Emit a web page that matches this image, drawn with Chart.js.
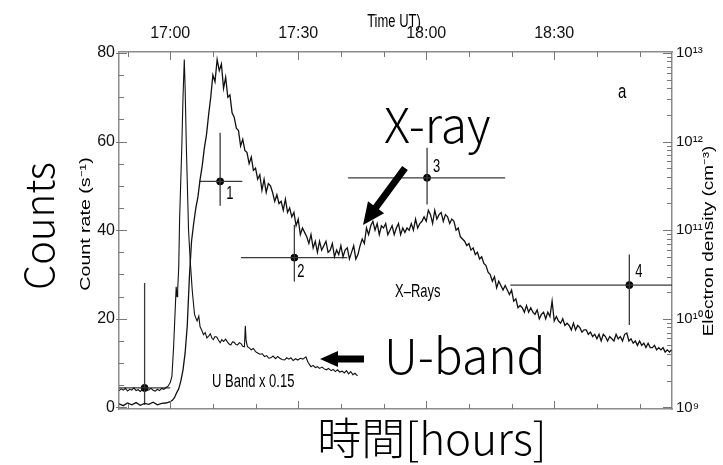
<!DOCTYPE html>
<html>
<head>
<meta charset="utf-8">
<script src="https://cdn.jsdelivr.net/npm/chart.js@4.4.1/dist/chart.umd.min.js"></script>
<style>
  html, body { margin: 0; padding: 0; background: #fff; }
</style>
</head>
<body>
<canvas id="flareChart" width="723" height="465"></canvas>
<script>
// time is minutes after 16:00 UT
var xrayTime = [48, 49, 50, 51, 52, 53, 54, 55, 56, 57, 58, 59,
  60, 60.5, 61, 61.5, 62, 62.5, 63, 63.5, 64, 64.5,
  65, 65.5, 66, 66.5, 67, 67.5, 68, 68.5, 69, 69.5,
  70, 70.5, 71, 71.5, 72, 72.5, 73, 73.5, 74, 74.5,
  75, 75.5, 76, 76.5, 77, 77.5, 78, 78.5, 79, 79.5,
  80, 80.5, 81, 81.5, 82, 82.5, 83, 83.5, 84, 84.5,
  85, 85.5, 86, 86.5, 87, 87.5, 88, 88.5, 89, 89.5,
  90, 90.5, 91, 91.5, 92, 92.5, 93, 93.5, 94, 94.5,
  95, 95.5, 96, 96.5, 97, 97.5, 98, 98.5, 99, 99.5,
  100, 100.5, 101, 101.5, 102, 102.5, 103, 103.5, 104, 104.5,
  105, 105.5, 106, 106.5, 107, 107.5, 108, 108.5, 109, 109.5,
  110, 110.5, 111, 111.5, 112, 112.5, 113, 113.5, 114, 114.5,
  115, 115.5, 116, 116.5, 117, 117.5, 118, 118.5, 119, 119.5,
  120, 120.5, 121, 121.5, 122, 122.5, 123, 123.5, 124, 124.5,
  125, 125.5, 126, 126.5, 127, 127.5, 128, 128.5, 129, 129.5,
  130, 130.5, 131, 131.5, 132, 132.5, 133, 133.5, 134, 134.5,
  135, 135.5, 136, 136.5, 137, 137.5, 138, 138.5, 139, 139.5,
  140, 140.5, 141, 141.5, 142, 142.5, 143, 143.5, 144, 144.5,
  145, 145.5, 146, 146.5, 147, 147.5, 148, 148.5, 149, 149.5,
  150, 150.5, 151, 151.5, 152, 152.5, 153, 153.5, 154, 154.5,
  155, 155.5, 156, 156.5, 157, 157.5, 158, 158.5, 159, 159.5,
  160, 160.5, 161, 161.5, 162, 162.5, 163, 163.5, 164, 164.5,
  165, 165.5, 166, 166.5, 167, 167.5, 168, 168.5, 169, 169.5,
  170, 170.5, 171, 171.5, 172, 172.5, 173, 173.5, 174, 174.5,
  175, 175.5, 176, 176.5, 177, 177.5];
var xrayCounts = [0.8, 0.4, 1.0, 0.6, 1.1, 0.5, 0.9, 0.7, 1.2, 0.6, 0.9, 1.0,
  1.3, 1.6, 2.2, 3.3, 4.2, 6.0, 8.5, 12.3, 18.5, 29.5,
  37.5, 41.5, 45, 47.5, 51.4, 54.5, 58.5, 61.5, 66, 70,
  75, 73.5, 78.5, 76, 77.5, 72, 74.5, 70, 70.5, 66.5,
  65.5, 63, 62.5, 59, 60.5, 58, 57.5, 55, 56.5, 53.5,
  54, 51.5, 52.5, 49, 51.5, 48.5, 50.5, 50, 48.5, 46.5,
  48, 46, 46.5, 44.5, 47, 44, 45, 43, 44, 41,
  42.5, 39, 40.5, 39.5, 38.5, 37, 39, 36, 37.5, 35,
  37.5, 35.5, 36.5, 37.5, 35, 35.5, 37, 34, 35.5, 34.5,
  36.5, 34, 35.5, 36, 33.5, 35, 36.5, 33.5, 34.5, 36.5,
  38, 37, 40.5, 39, 41, 42, 40, 41.5, 39, 41,
  40.5, 41.5, 39, 40, 41, 39, 40.5, 41.5, 39, 40.5,
  39.5, 40.5, 40, 41.5, 40, 42.5, 40.5, 41.5, 42, 43,
  42, 44.5, 43.5, 41.5, 44.5, 42.5, 43.5, 44, 42, 43.5,
  43, 41.5, 42.5, 42, 40, 40.5, 38.5, 38, 37.5, 36.5,
  37, 35.5, 36, 34.5, 35, 33.5, 34, 32.5, 32, 30.5,
  30, 28.5, 29.5, 27, 28.5, 27.5, 26.5, 27.5, 26.5, 25.5,
  26.5, 24, 24.5, 22.5, 23, 22.5, 21.5, 23, 21.5, 22.5,
  21.5, 21, 22, 20, 21, 21.5, 20, 21.5, 20.5, 24,
  19.5, 20.5, 19.5, 19, 20, 18.5, 19, 18.5, 17.5, 19,
  17.5, 18.5, 18, 17, 17.5, 17.5, 16.5, 17, 16, 16.5,
  15.5, 16.5, 15, 16.5, 16, 15, 16, 15.5, 15, 16.5,
  15.5, 16, 15, 16.5, 16.8, 15, 15.5, 14.5, 15, 14,
  15, 14, 14.5, 13.5, 14.5, 13.5, 13.5, 14, 13, 13.5,
  13, 13.5, 12.5, 13, 12.5, 13];

var ubandTime = [48, 48.5, 49, 49.5, 50, 50.5, 51, 51.5, 52, 52.5,
  53, 53.5, 54, 54.5, 55, 55.5, 56, 56.5, 57, 57.5,
  58, 58.5, 59, 59.5, 60, 60.4, 60.8, 61.2, 61.4, 61.6,
  61.75, 62, 62.2, 62.7, 63, 63.3, 63.5, 63.8, 64.3, 64.7,
  65.2, 65.7, 66, 66.3, 66.7, 67, 67.4, 67.8, 68.2, 68.6,
  69, 69.4, 69.8, 70.1, 70.5, 70.9, 71.3, 71.7, 72.1, 72.5,
  73, 73.4, 73.8, 74.2, 74.6, 75, 75.4, 75.8, 76.2, 76.6,
  77, 77.4, 77.6, 77.8, 78.1, 78.6, 79, 79.5, 80, 80.5,
  81, 81.6, 82.1, 82.6, 83.1, 83.6, 84.1, 84.7, 85.2, 85.7,
  86.2, 86.8, 87.3, 87.8, 88.3, 88.8, 89.4, 89.9, 90.5, 91.1,
  91.8, 92.3, 92.7, 93, 93.5, 94, 94.5, 95, 95.6, 96.1,
  96.6, 97.1, 97.7, 98.2, 98.7, 99.2, 99.7, 100.3, 100.8, 101.3,
  101.8, 102.3, 102.8, 103.3, 103.9];
var ubandCounts = [3.8, 4.2, 3.9, 4.3, 3.7, 4.1, 3.9, 4.4, 3.8, 4.0,
  3.6, 4.1, 4.2, 3.8, 4.0, 4.3, 3.9, 3.7, 4.1, 3.8,
  4.3, 4.1, 4.5, 4.8, 5.6, 7.0, 13.7, 22.7, 27.2, 25,
  26.5, 31.7, 42.4, 58.2, 70, 78.5, 72, 58.2, 40, 33,
  26, 21, 20.2, 19.5, 20.6, 18.2, 17.4, 16.4, 16.9, 15.7,
  16.1, 16.6, 15.6, 15.3, 16.0, 15.9, 15.2, 14.6, 15.3, 14.9,
  15.4, 14.8, 14.3, 14.1, 14.8, 14.7, 14.2, 14.1, 14.6, 14.4,
  13.8, 13.7, 18.4, 15.0, 13.7, 13.4, 13.0, 13.3, 12.6, 12.3,
  12.0, 12.1, 11.5, 11.7, 11.1, 11.2, 11.6, 11.0, 11.5, 11.1,
  10.8, 10.7, 11.2, 10.9, 11.2, 10.6, 11.0, 10.7, 11.1, 10.9,
  11.4, 10.2, 9.6, 9.2, 9.5, 9.0, 9.2, 8.8, 9.1, 8.7,
  8.5, 8.8, 8.3, 8.6, 8.1, 8.5, 8.0, 8.2, 7.8, 8.3,
  7.6, 8.1, 7.4, 7.7, 7.1];

// electron density estimates (cm^-3) with time and density ranges
var densTime = [54, 71.7, 89.1, 120.2, 167.6];
var densTimeLo = [44, 66.8, 76.6, 101.7, 139.7];
var densTimeHi = [60, 76.9, 101.5, 138.5, 195];
var density = [1.66e9, 3.55e11, 4.9e10, 3.9e11, 2.4e10];
var densityLo = [1.07e9, 1.88e11, 2.63e10, 1.95e11, 8.5e9];
var densityHi = [2.54e10, 1.26e12, 1.15e11, 8.5e11, 5.3e10];
var densLabels = ['', '1', '2', '3', '4'];

var timeTicks = [60, 90, 120, 150];
var countTicks = [0, 20, 40, 60, 80];
var densityTicks = [1e9, 1e10, 1e11, 1e12, 1e13];

var narrow = "'Liberation Sans Narrow', 'Liberation Sans', Arial, sans-serif";
var axisGray = '#8c8c8c';

function sup(n) {
  var map = {'0': '⁰', '1': '¹', '2': '²', '3': '³', '4': '⁴', '5': '⁵', '6': '⁶', '7': '⁷', '8': '⁸', '9': '⁹'};
  return String(n).split('').map(function(c) { return map[c]; }).join('');
}

function clock(m) {
  var h = 16 + Math.floor(m / 60);
  var mm = Math.round(m % 60);
  return h + ':' + (mm < 10 ? '0' + mm : mm);
}

function pairs(xs, ys) {
  return xs.map(function(x, i) { return {x: x, y: ys[i]}; });
}

// text squeezed like the original scanned figure
function drawText(ctx, text, x, y, font, sx, sy, rot, align, baseline) {
  ctx.save();
  ctx.translate(x, y);
  if (rot) ctx.rotate(rot);
  ctx.scale(sx, sy);
  ctx.font = font;
  ctx.textAlign = align || 'left';
  ctx.textBaseline = baseline || 'alphabetic';
  ctx.fillText(text, 0, 0);
  ctx.restore();
}

function arrow(ctx, x0, y0, x1, y1, shaft, headLen, headHalf) {
  var dx = x1 - x0, dy = y1 - y0;
  var len = Math.sqrt(dx * dx + dy * dy);
  var ux = dx / len, uy = dy / len, nx = -uy, ny = ux;
  var bx = x1 - ux * headLen, by = y1 - uy * headLen;
  ctx.beginPath();
  ctx.moveTo(x0 + nx * shaft / 2, y0 + ny * shaft / 2);
  ctx.lineTo(bx + nx * shaft / 2, by + ny * shaft / 2);
  ctx.lineTo(bx + nx * headHalf, by + ny * headHalf);
  ctx.lineTo(x1, y1);
  ctx.lineTo(bx - nx * headHalf, by - ny * headHalf);
  ctx.lineTo(bx - nx * shaft / 2, by - ny * shaft / 2);
  ctx.lineTo(x0 - nx * shaft / 2, y0 - ny * shaft / 2);
  ctx.closePath();
  ctx.fill();
}

// tick marks pointing into the plot, like the original figure
var insideTicks = {
  id: 'insideTicks',
  afterDraw: function(chart) {
    var ctx = chart.ctx, a = chart.chartArea, s = chart.scales;
    ctx.save();
    ctx.strokeStyle = '#777';
    ctx.lineWidth = 1;
    ctx.beginPath();
    for (var m = 50; m <= 170; m += 10) {
      var px = Math.round(s.x.getPixelForValue(m)) + 0.5;
      var len = (m % 30 === 0) ? 8 : 5;
      ctx.moveTo(px, a.top); ctx.lineTo(px, a.top + len);
      ctx.moveTo(px, a.bottom); ctx.lineTo(px, a.bottom - len);
    }
    for (var c = 0; c <= 80; c += 5) {
      var py = Math.round(s.y.getPixelForValue(c)) + 0.5;
      if (c % 20 === 0) { ctx.moveTo(a.left - 3, py); ctx.lineTo(a.left + 8, py); }
      else { ctx.moveTo(a.left, py); ctx.lineTo(a.left + 5, py); }
    }
    for (var e = 9; e <= 13; e++) {
      for (var k = 1; k <= 9; k++) {
        if (e === 13 && k > 1) break;
        var py2 = Math.round(s.y2.getPixelForValue(k * Math.pow(10, e))) + 0.5;
        var l2 = k === 1 ? 9 : 5;
        ctx.moveTo(a.right, py2); ctx.lineTo(a.right - l2, py2);
      }
    }
    ctx.stroke();
    ctx.restore();
  }
};

var annotations = {
  id: 'annotations',
  afterDraw: function(chart) {
    var ctx = chart.ctx, s = chart.scales;
    var small = '13px "Liberation Sans", Arial, sans-serif';
    var big = '300 48px "Noto Sans CJK JP", "Noto Sans", sans-serif';
    ctx.save();
    ctx.fillStyle = '#000';

    // axis titles
    drawText(ctx, 'Time UT)', 394, 27, small, 1, 1.35, 0, 'center');
    drawText(ctx, 'Count rate (s⁻¹)', 86, 224, '14px "Liberation Sans", Arial, sans-serif', 1.4, 1, -Math.PI / 2, 'center', 'middle');
    drawText(ctx, 'Electron density (cm⁻³)', 709, 241, '14px "Liberation Sans", Arial, sans-serif', 1.35, 1, -Math.PI / 2, 'center', 'middle');
    drawText(ctx, 'Counts', 39, 226, '300 40px "Noto Sans CJK JP", "Noto Sans", sans-serif', 1, 1, -Math.PI / 2, 'center', 'middle');
    drawText(ctx, '時間[hours]', 432, 455, '300 44px "Noto Sans CJK JP", sans-serif', 1, 1, 0, 'center');

    // panel texts
    drawText(ctx, 'a', 618, 98, '15px "Liberation Sans", Arial, sans-serif', 1, 1.35, 0);
    drawText(ctx, 'X–Rays', 395, 297, small, 1, 1.35, 0);
    drawText(ctx, 'U Band x 0.15', 212, 387, small, 1, 1.35, 0);

    // numbers beside the density points
    var off = [[0, 0], [6, 18], [3, 19], [6, -6], [6, -8]];
    densTime.forEach(function(t, i) {
      if (!densLabels[i]) return;
      var px = s.x.getPixelForValue(t), py = s.y2.getPixelForValue(density[i]);
      drawText(ctx, densLabels[i], px + off[i][0], py + off[i][1], small, 1, 1.35, 0);
    });

    // big call-outs
    drawText(ctx, 'X-ray', 384, 143, big, 1, 1, 0);
    drawText(ctx, 'U-band', 384, 374, big, 1, 1, 0);
    arrow(ctx, 405, 168, 363, 225, 7, 22, 10);
    arrow(ctx, 364, 359, 320, 359, 7, 18, 8);
    ctx.restore();
  }
};

var lineStyle = {borderColor: '#3a3a3a', borderWidth: 1.3, pointRadius: 0, fill: false, yAxisID: 'y2', xAxisID: 'x'};

var datasets = [
  {label: 'X-Rays', data: pairs(xrayTime, xrayCounts), borderColor: '#111', borderWidth: 1.3,
    pointRadius: 0, tension: 0, yAxisID: 'y', xAxisID: 'x'},
  {label: 'U Band x 0.15', data: pairs(ubandTime, ubandCounts), borderColor: '#111', borderWidth: 1.1,
    pointRadius: 0, tension: 0, yAxisID: 'y', xAxisID: 'x'}
];
densTime.forEach(function(t, i) {
  datasets.push(Object.assign({data: [{x: densTimeLo[i], y: density[i]}, {x: densTimeHi[i], y: density[i]}]}, lineStyle));
  datasets.push(Object.assign({data: [{x: t, y: densityLo[i]}, {x: t, y: densityHi[i]}]}, lineStyle));
});
datasets.push({label: 'density', data: pairs(densTime, density), showLine: false, pointRadius: 3.5,
  pointBackgroundColor: '#000', pointBorderColor: '#000', yAxisID: 'y2', xAxisID: 'x'});

var ctx = document.getElementById('flareChart').getContext('2d');
new Chart(ctx, {
  type: 'line',
  data: {datasets: datasets},
  options: {
    responsive: false,
    animation: false,
    layout: {padding: {left: 70}},
    plugins: {legend: {display: false}, tooltip: {enabled: false}},
    scales: {
      x: {
        type: 'linear', position: 'bottom', min: 48, max: 177.6,
        grid: {drawOnChartArea: false, drawTicks: false},
        border: {color: axisGray, width: 1.5},
        ticks: {display: false},
        afterFit: function(scale) { scale.height = 56; }
      },
      x2: {
        type: 'linear', position: 'top', min: 48, max: 177.6,
        grid: {drawOnChartArea: false, drawTicks: false},
        border: {color: axisGray, width: 1.5},
        ticks: {padding: 9, color: '#111', font: {family: narrow, size: 16},
          callback: function(v) { return clock(v); }},
        afterBuildTicks: function(scale) { scale.ticks = timeTicks.map(function(v) { return {value: v}; }); },
        afterFit: function(scale) { scale.height = 52; }
      },
      y: {
        type: 'linear', position: 'left', min: -0.35, max: 80.2,
        grid: {drawOnChartArea: false, drawTicks: false},
        border: {color: axisGray, width: 1.5},
        ticks: {padding: 4, color: '#111', font: {family: narrow, size: 16}},
        afterBuildTicks: function(scale) { scale.ticks = countTicks.map(function(v) { return {value: v}; }); },
        afterFit: function(scale) { scale.width = 49; }
      },
      y2: {
        type: 'logarithmic', position: 'right', min: Math.pow(10, 8.9825), max: Math.pow(10, 13.01),
        grid: {drawOnChartArea: false, drawTicks: false},
        border: {color: axisGray, width: 1.5},
        ticks: {padding: 4, color: '#111', font: {family: narrow, size: 15},
          callback: function(v) { return '10' + sup(Math.round(Math.log10(v))); }},
        afterBuildTicks: function(scale) { scale.ticks = densityTicks.map(function(v) { return {value: v}; }); },
        afterFit: function(scale) { scale.width = 51; }
      }
    }
  },
  plugins: [insideTicks, annotations]
});
</script>
</body>
</html>
